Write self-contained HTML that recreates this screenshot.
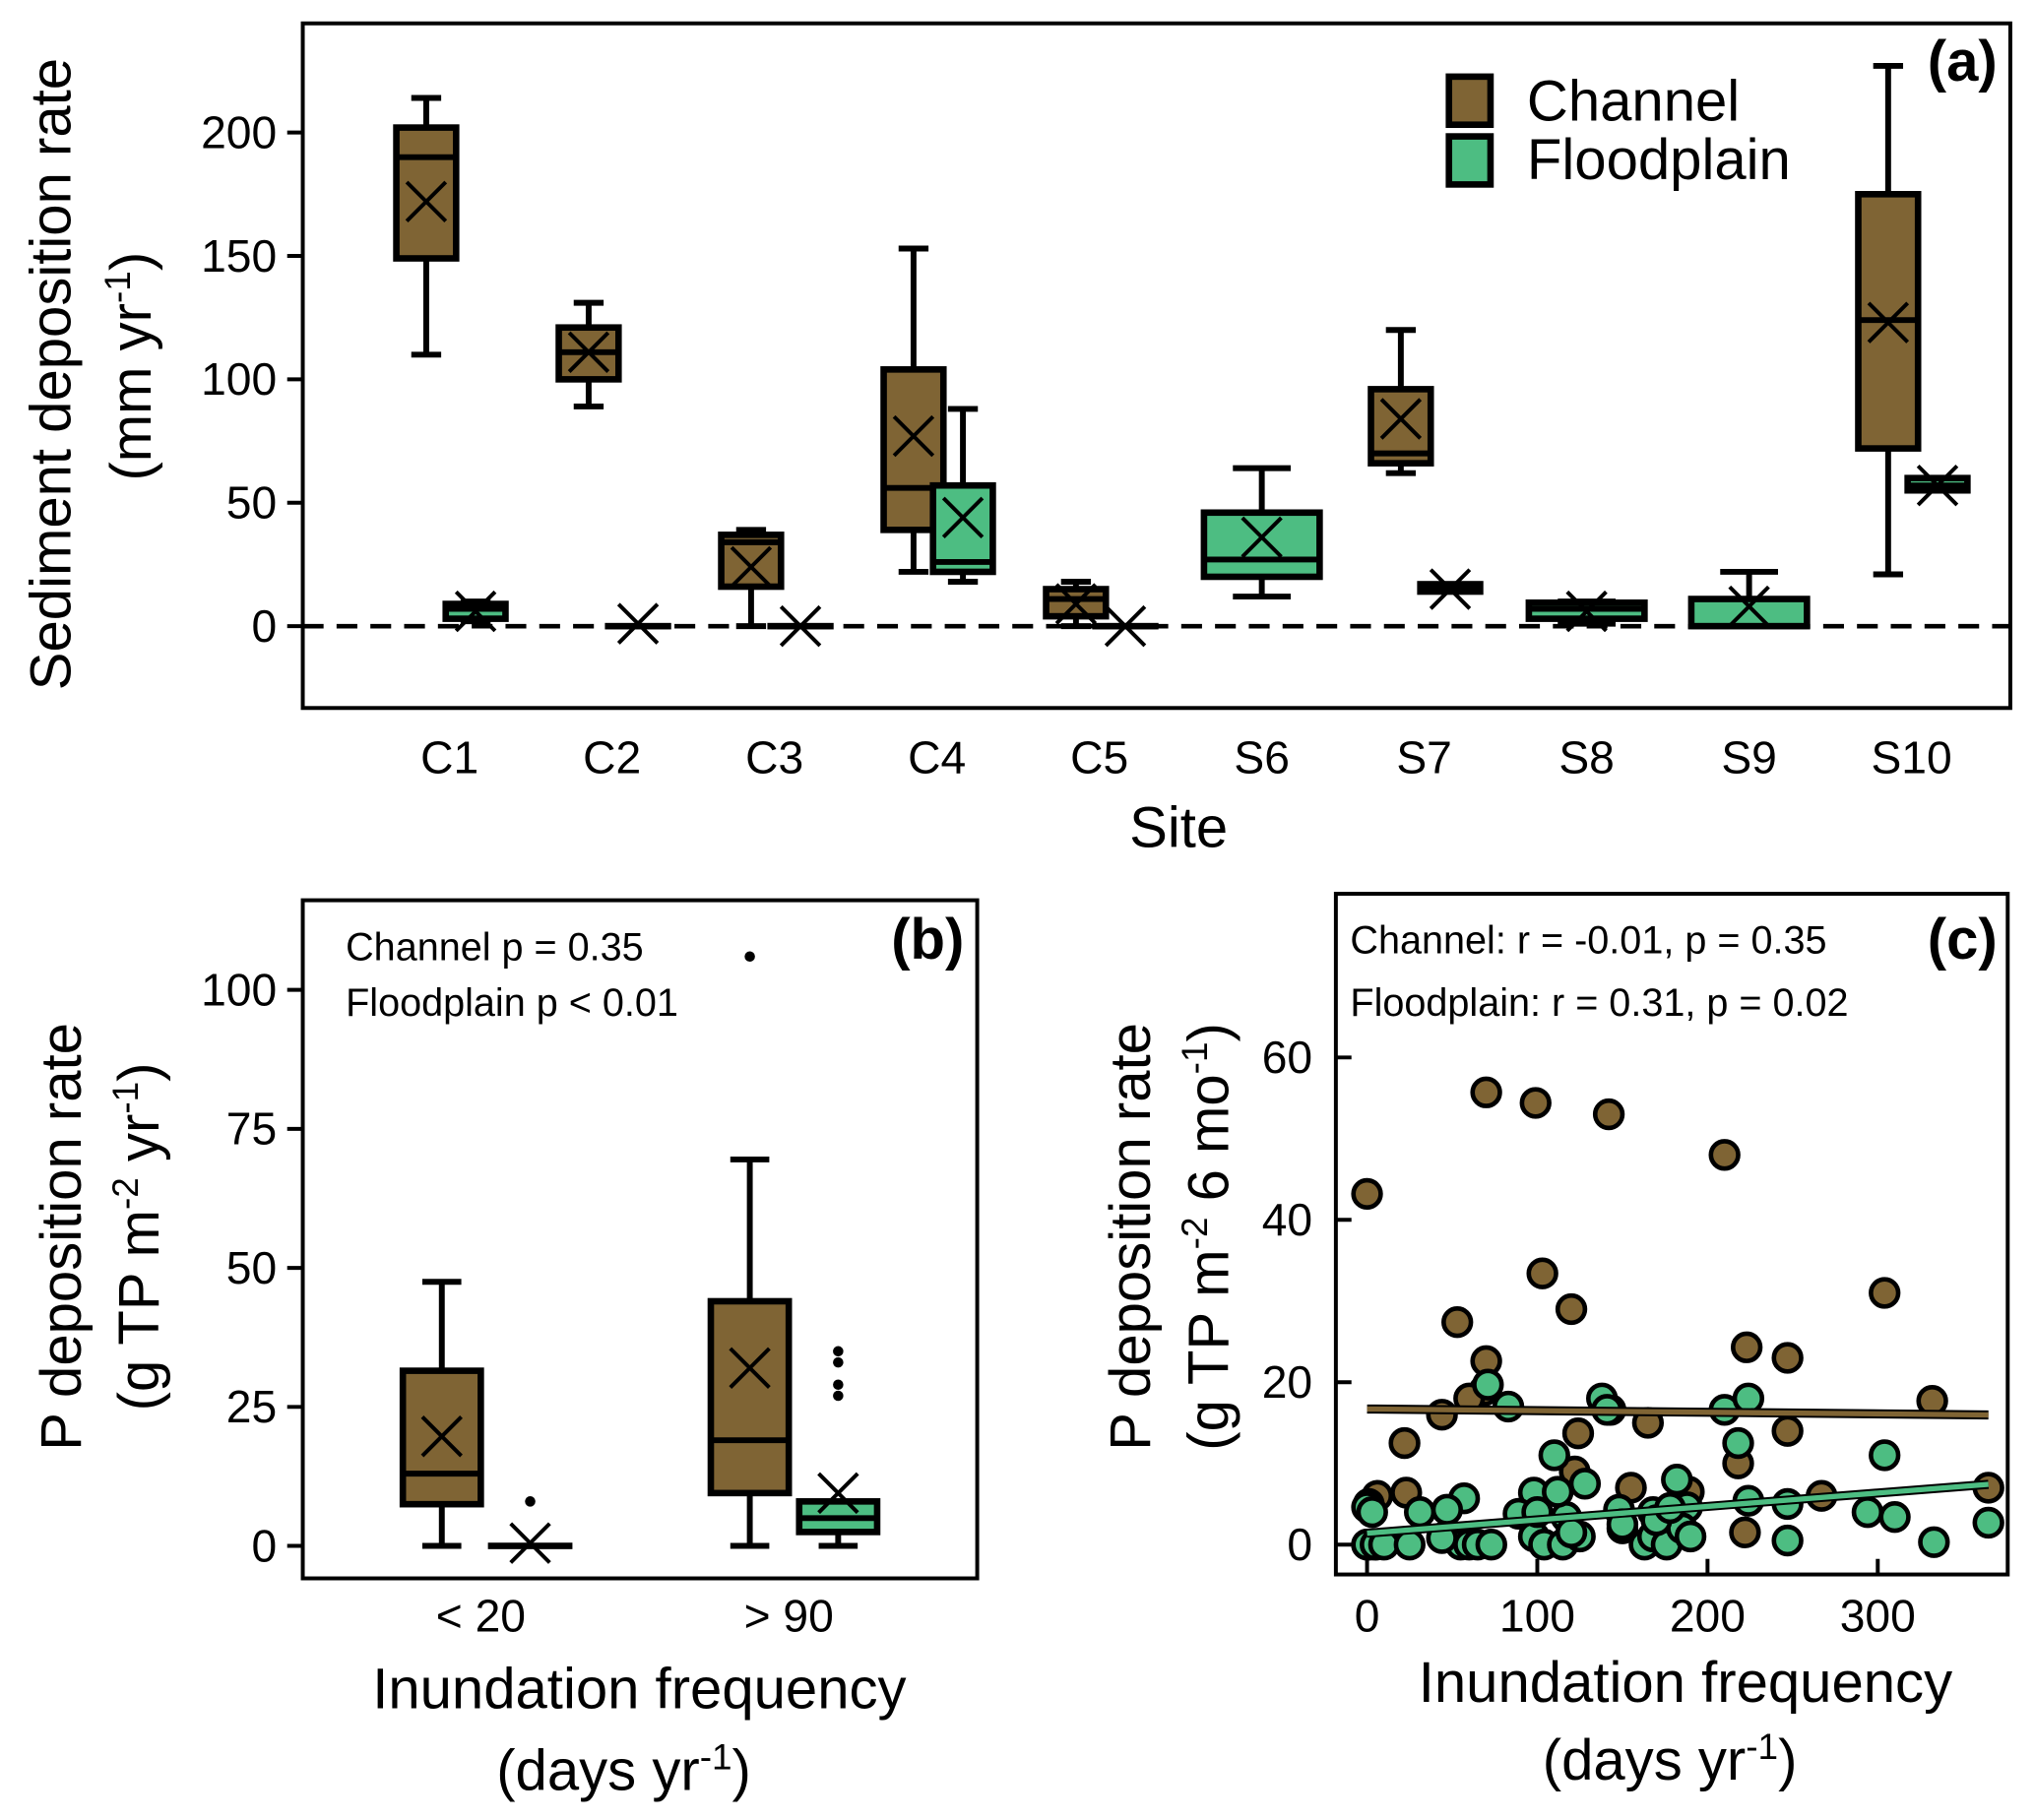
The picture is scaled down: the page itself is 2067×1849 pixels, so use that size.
<!DOCTYPE html>
<html><head><meta charset="utf-8"><style>
html,body{margin:0;padding:0;background:#fff;}
svg{display:block;font-family:"Liberation Sans",Arial,sans-serif;}
</style></head><body>
<svg id="fig" width="2067" height="1849" viewBox="0 0 1566 1401" preserveAspectRatio="none" xmlns="http://www.w3.org/2000/svg">
<g id="pa"></g>
<g id="pb"></g>
<g id="pc"></g>
</svg>
<script>
// ---- Panel (a) data ----
const sitesA = ["C1","C2","C3","C4","C5","S6","S7","S8","S9","S10"];
const chanMin = [110,89,0,22,0,null,62,null,null,21];
const chanQ1  = [149,100,16,39,4,null,66,null,null,72];
const chanMed = [190,111,34,56,11,null,70,null,null,124];
const chanQ3  = [202,121,37,104,15,null,96,null,null,175];
const chanMax = [214,131,39,153,18,null,120,null,null,227];
const chanMean= [172,111,24,77,9,null,84,null,null,123];
const fpMin = [2,0,0,18,0,12,14,1,0,55];
const fpQ1  = [3,0,0,22,0,20,14,3,0,55];
const fpMed = [7,0,0,26,0,27,15,7,0,57];
const fpQ3  = [9,0,0,57,0,46,17,9.5,11,60];
const fpMax = [10,0,0,88,0,64,17,10,22,60];
const fpMean= [6,1,0,44,0,36,15,6,8,57];
const ticksA = [0,50,100,150,200];

// ---- Panel (b) data ----
const catsB = ["< 20","> 90"];
const bChan = {min:[0,0],q1:[7.5,9.5],med:[13,19],q3:[31.5,44],max:[47.5,69.5],mean:[19.7,32]};
const bChanOut = [[],[106]];
const bFp = {min:[0,0],q1:[0,2.5],med:[0,5],q3:[0,8],max:[0,8],mean:[0.5,9.5]};
const bFpOut = [[8],[27,29,33,35]];
const ticksB = [0,25,50,75,100];

// ---- Panel (c) data ----
const chX = [0,70,99,142,210,103,120,53,70,69,304,332,365,44,22,124,165,143,247,218,222,6,23,122,155,189,267,223,247,0,2,5,60,1];
const chY = [43.2,55.7,54.4,53,48,33.4,29,27.4,22.6,19,31,17.7,7,16,12.5,13.7,15,16.6,14,10,1.5,6,6.4,9,7,6.5,6,24.3,23,0,0,0,18,5];
const fpX = [71,83,138,141,210,224,218,110,304,182,0,31,57,47,98,89,117,148,168,188,224,247,294,310,333,365,247,0,5,10,25,55,60,65,73,98,104,115,125,150,163,168,176,185,190,3,112,128,150,100,120,170,178,44];
const fpY = [19.7,17,18,16.6,16.6,18,12.5,11,11,8,4.6,4,5.7,4.3,6.4,3.8,3.4,4.3,4,4.6,5.4,5,4,3.4,0.3,2.7,0.5,0,0,0,0,0,0,0,0,1,0,0,1,2,0,1,0,2,1,4,6.5,7.5,2.5,4,1.5,3,4.5,0.8];
const fitSlope = [-0.002,0.0165];
const fitInt = [16.7,1.4];
const ticksCX = [0,100,200,300];
const ticksCY = [0,20,40,60];

const NS="http://www.w3.org/2000/svg";
const BROWN="#7f6434", GREEN="#4dbd82";
function mk(parent,tag,attrs,text){const e=document.createElementNS(NS,tag);for(const k in attrs)e.setAttribute(k,attrs[k]);if(text!==undefined)e.textContent=text;parent.appendChild(e);return e;}

function drawBox(g,cx,w,sy,mn,q1,md,q3,mx,mean,fill,name){
  const grp=mk(g,'g',{});
  
  
  const st={stroke:'#000','stroke-width':4.5,fill:'none'};
  if(mx>q3){mk(grp,'line',Object.assign({x1:cx,x2:cx,y1:sy(q3),y2:sy(mx)},st));mk(grp,'line',Object.assign({x1:cx-w/4,x2:cx+w/4,y1:sy(mx),y2:sy(mx)},st));}
  if(mn<q1){mk(grp,'line',Object.assign({x1:cx,x2:cx,y1:sy(q1),y2:sy(mn)},st));mk(grp,'line',Object.assign({x1:cx-w/4,x2:cx+w/4,y1:sy(mn),y2:sy(mn)},st));}
  const h=Math.max(sy(q1)-sy(q3),0.01);
  mk(grp,'rect',{x:cx-w/2,y:sy(q3),width:w,height:h,fill:fill,stroke:'#000','stroke-width':5});
  mk(grp,'line',Object.assign({x1:cx-w/2,x2:cx+w/2,y1:sy(md),y2:sy(md)},st));
  const my=sy(mean),s=15;
  mk(grp,'path',{d:`M${cx-s},${my-s}L${cx+s},${my+s}M${cx-s},${my+s}L${cx+s},${my-s}`,stroke:'#000','stroke-width':3,fill:'none'});
}

// ===== Panel A =====
(function(){
  const g=document.getElementById('pa');
  const L=233,R=1547,T=18,B=545;
  const sy=v=>482-v*1.9;
  const sx=i=>346+i*125;
  mk(g,'line',{x1:L,x2:R,y1:sy(0),y2:sy(0),stroke:'#000','stroke-width':3.5,'stroke-dasharray':'16 10'});
  sitesA.forEach((s,i)=>{
    const both=chanMed[i]!==null;
    if(both) drawBox(g,sx(i)-18,46,sy,chanMin[i],chanQ1[i],chanMed[i],chanQ3[i],chanMax[i],chanMean[i],BROWN,'box-channel-'+s.toLowerCase());
    drawBox(g,both?sx(i)+20:sx(i),both?46:89,sy,fpMin[i],fpQ1[i],fpMed[i],fpQ3[i],fpMax[i],fpMean[i],GREEN,'box-floodplain-'+s.toLowerCase());
    const t=mk(g,'text',{x:sx(i),y:595,'font-size':35,'text-anchor':'middle'},s);
    
    
  });
  mk(g,'rect',{x:L,y:T,width:R-L,height:B-T,fill:'none',stroke:'#000','stroke-width':3});
  ticksA.forEach(v=>{
    mk(g,'line',{x1:L-12,x2:L,y1:sy(v),y2:sy(v),stroke:'#000','stroke-width':3});
    const t=mk(g,'text',{x:L-20,y:sy(v)+12,'font-size':35,'text-anchor':'end'},String(v));
    
    
  });
  const xt=mk(g,'text',{x:907,y:652,'font-size':44,'text-anchor':'middle'},'Site');
  
  const yt=mk(g,'text',{transform:'translate(54,288) rotate(-90)','font-size':44,'text-anchor':'middle'},'Sediment deposition rate');
  
  const yt2=mk(g,'text',{transform:'translate(116,282) rotate(-90)','font-size':44,'text-anchor':'middle'});
  yt2.innerHTML='(mm yr<tspan dy="-16" font-size="28">-1</tspan><tspan dy="16">)</tspan>';
  const pl=mk(g,'text',{x:1537,y:62,'font-size':44,'font-weight':'bold','text-anchor':'end'},'(a)');
  
  const lg=mk(g,'g',{});
  
  mk(lg,'rect',{x:1115,y:59,width:32,height:37,fill:BROWN,stroke:'#000','stroke-width':5});
  mk(lg,'rect',{x:1115,y:105,width:32,height:37,fill:GREEN,stroke:'#000','stroke-width':5});
  mk(lg,'text',{x:1175,y:93,'font-size':44},'Channel');
  mk(lg,'text',{x:1175,y:138,'font-size':44},'Floodplain');
})();

// ===== Panel B =====
(function(){
  const g=document.getElementById('pb');
  const L=233,R=752,T=693,B=1215;
  const sy=v=>1190-v*4.28;
  const cx=[370,607];
  catsB.forEach((c,i)=>{
    drawBox(g,cx[i]-30,60,sy,bChan.min[i],bChan.q1[i],bChan.med[i],bChan.q3[i],bChan.max[i],bChan.mean[i],BROWN,'box-channel-'+i);
    drawBox(g,cx[i]+38,60,sy,bFp.min[i],bFp.q1[i],bFp.med[i],bFp.q3[i],bFp.max[i],bFp.mean[i],GREEN,'box-floodplain-'+i);
    bChanOut[i].forEach(v=>{const p=mk(g,'circle',{cx:cx[i]-30,cy:sy(v),r:4,fill:'#000'});});
    bFpOut[i].forEach(v=>{const p=mk(g,'circle',{cx:cx[i]+38,cy:sy(v),r:4,fill:'#000'});});
    const t=mk(g,'text',{x:cx[i],y:1256,'font-size':35,'text-anchor':'middle'},c);
    
  });
  mk(g,'rect',{x:L,y:T,width:R-L,height:B-T,fill:'none',stroke:'#000','stroke-width':3});
  ticksB.forEach(v=>{
    mk(g,'line',{x1:L-12,x2:L,y1:sy(v),y2:sy(v),stroke:'#000','stroke-width':3});
    const t=mk(g,'text',{x:L-20,y:sy(v)+12,'font-size':35,'text-anchor':'end'},String(v));
    
  });
  mk(g,'text',{x:266,y:739,'font-size':30},'Channel p = 0.35');
  mk(g,'text',{x:266,y:782,'font-size':30},'Floodplain p < 0.01');
  const pl=mk(g,'text',{x:742,y:738,'font-size':44,'font-weight':'bold','text-anchor':'end'},'(b)');
  
  const x1=mk(g,'text',{x:492,y:1315,'font-size':44,'text-anchor':'middle'},'Inundation frequency');
  
  const x2=mk(g,'text',{x:480,y:1378,'font-size':44,'text-anchor':'middle'});
  x2.innerHTML='(days yr<tspan dy="-16" font-size="28">-1</tspan><tspan dy="16">)</tspan>';
  const y1=mk(g,'text',{transform:'translate(62,952) rotate(-90)','font-size':44,'text-anchor':'middle'},'P deposition rate');
  
  const y2=mk(g,'text',{transform:'translate(122,952) rotate(-90)','font-size':44,'text-anchor':'middle'});
  y2.innerHTML='(g TP m<tspan dy="-16" font-size="28">-2</tspan><tspan dy="16"> yr</tspan><tspan dy="-16" font-size="28">-1</tspan><tspan dy="16">)</tspan>';
})();

// ===== Panel C =====
(function(){
  const g=document.getElementById('pc');
  const L=1028,R=1545,T=688,B=1212;
  const sx=v=>1052+v*1.31;
  const sy=v=>1189-v*6.25;
  chX.forEach((x,i)=>{const c=mk(g,'circle',{cx:sx(x),cy:sy(chY[i]),r:10.5,fill:BROWN,stroke:'#000','stroke-width':3.5});
    });
  fpX.forEach((x,i)=>{const c=mk(g,'circle',{cx:sx(x),cy:sy(fpY[i]),r:10.5,fill:GREEN,stroke:'#000','stroke-width':3.5});
    });
  [BROWN,GREEN].forEach((col,k)=>{
    const a=sy(fitInt[k]),b=sy(fitInt[k]+fitSlope[k]*365);
    mk(g,'line',{x1:sx(0),x2:sx(365),y1:a,y2:b,stroke:'#000','stroke-width':7});
    const l=mk(g,'line',{x1:sx(0),x2:sx(365),y1:a,y2:b,stroke:col,'stroke-width':4});
    
  });
  mk(g,'rect',{x:L,y:T,width:R-L,height:B-T,fill:'none',stroke:'#000','stroke-width':3});
  ticksCX.forEach(v=>{
    mk(g,'line',{x1:sx(v),x2:sx(v),y1:B,y2:B-12,stroke:'#000','stroke-width':3});
    const t=mk(g,'text',{x:sx(v),y:1256,'font-size':35,'text-anchor':'middle'},String(v));
    
  });
  ticksCY.forEach(v=>{
    mk(g,'line',{x1:L,x2:L+12,y1:sy(v),y2:sy(v),stroke:'#000','stroke-width':3});
    const t=mk(g,'text',{x:L-18,y:sy(v)+12,'font-size':35,'text-anchor':'end'},String(v));
    
  });
  mk(g,'text',{x:1039,y:734,'font-size':30},'Channel: r = -0.01, p = 0.35');
  mk(g,'text',{x:1039,y:782,'font-size':30},'Floodplain: r = 0.31, p = 0.02');
  const pl=mk(g,'text',{x:1537,y:738,'font-size':44,'font-weight':'bold','text-anchor':'end'},'(c)');
  
  const x1=mk(g,'text',{x:1297,y:1310,'font-size':44,'text-anchor':'middle'},'Inundation frequency');
  
  const x2=mk(g,'text',{x:1285,y:1370,'font-size':44,'text-anchor':'middle'});
  x2.innerHTML='(days yr<tspan dy="-16" font-size="28">-1</tspan><tspan dy="16">)</tspan>';
  const y1=mk(g,'text',{transform:'translate(885,952) rotate(-90)','font-size':44,'text-anchor':'middle'},'P deposition rate');
  
  const y2=mk(g,'text',{transform:'translate(945,952) rotate(-90)','font-size':44,'text-anchor':'middle'});
  y2.innerHTML='(g TP m<tspan dy="-16" font-size="28">-2</tspan><tspan dy="16"> 6 mo</tspan><tspan dy="-16" font-size="28">-1</tspan><tspan dy="16">)</tspan>';
})();
</script>
</body></html>
